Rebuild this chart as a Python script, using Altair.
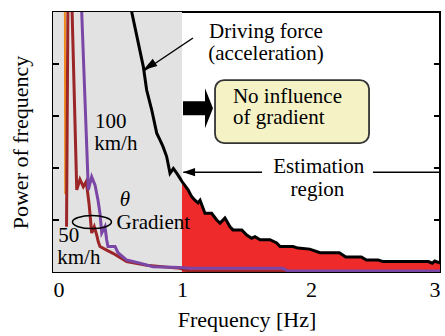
import altair as alt
import pandas as pd

# Frequency spectra (frequency in Hz, power in arbitrary units)
drive_f = [0.60, 0.700, 0.726, 0.765, 0.804, 0.829, 0.853, 0.881, 0.907, 0.933, 0.959, 0.985,
           1.0, 1.047, 1.075, 1.10, 1.124, 1.14, 1.178, 1.23, 1.269, 1.295, 1.333, 1.372, 1.395,
           1.463, 1.502, 1.54, 1.566, 1.605, 1.682, 1.734, 1.76, 1.86, 1.90, 1.99, 2.07, 2.22,
           2.27, 2.39, 2.43, 2.52, 2.56, 2.91, 2.94, 2.96, 3.0]
drive_p = [5.12, 3.95, 3.5, 3.12, 2.67, 2.54, 2.41, 2.22, 1.90, 1.99, 1.90, 1.80,
           1.74, 1.58, 1.45, 1.38, 1.33, 1.38, 1.13, 1.13, 1.0, 0.94, 1.04, 0.87, 0.81,
           0.81, 0.71, 0.65, 0.68, 0.62, 0.62, 0.56, 0.49, 0.49, 0.46, 0.44, 0.37, 0.37,
           0.29, 0.29, 0.23, 0.23, 0.20, 0.20, 0.17, 0.21, 0.17]

v100_f = [0.218, 0.274, 0.30, 0.326, 0.349, 0.364, 0.378, 0.403, 0.416, 0.426, 0.481, 0.504,
          0.571, 0.674, 0.775, 0.984, 1.062, 1.783, 1.82, 3.0]
v100_p = [5.3, 1.58, 1.83, 1.67, 1.38, 1.13, 0.75, 0.87, 0.62, 0.49, 0.49, 0.37,
          0.23, 0.17, 0.10, 0.087, 0.07, 0.07, 0.02, 0.02]

v50_f = [0.105, 0.116, 0.145, 0.184, 0.209, 0.235, 0.258, 0.28, 0.30, 0.32, 0.34, 0.351,
         0.364, 0.416, 0.465, 0.571, 0.726, 0.984, 1.06, 3.0]
v50_p = [0.87, 5.3, 5.3, 1.58, 1.78, 1.64, 1.74, 1.30, 0.75, 0.87, 0.70, 0.58,
         0.49, 0.42, 0.36, 0.20, 0.13, 0.07, 0.01, 0.01]

other_f = [0.092, 0.095]
other_p = [5.3, 1.5]

y_ticks = [1, 2, 3, 4]

FONT = "Liberation Serif, Times New Roman, Liberation Sans, serif"
FS = 21

def X(field):
    return alt.X(field, type="quantitative",
                 scale=alt.Scale(domain=[0, 3], nice=False, zero=False),
                 axis=alt.Axis(values=[0, 1, 2, 3], format="d", ticks=False, domain=False,
                               grid=False, labelFontSize=22, labelPadding=7, labelFont=FONT,
                               labelColor="black", title="Frequency [Hz]", titleFont=FONT,
                               titleFontSize=22, titleFontWeight="normal",
                               titleColor="black", titlePadding=9),
                 title="Frequency [Hz]")

def Y(field):
    return alt.Y(field, type="quantitative",
                 scale=alt.Scale(domain=[0, 5], nice=False, zero=False),
                 axis=alt.Axis(labels=False, ticks=False, domain=False, grid=False,
                               title="Power of frequency", titleFontSize=22, titleFont=FONT,
                               titleFontWeight="normal", titleColor="black",
                               titlePadding=21),
                 title="Power of frequency")

drive = pd.DataFrame({"f": drive_f, "p": drive_p})
est = drive[drive["f"] >= 1.0]
s100 = pd.DataFrame({"f": v100_f, "p": v100_p})
s50 = pd.DataFrame({"f": v50_f, "p": v50_p})
other = pd.DataFrame({"f": other_f, "p": other_p})

# shaded low-frequency band (affected by gradient)
band = alt.Chart(pd.DataFrame({"a": [0.0], "b": [1.0], "lo": [0.0], "hi": [5.0]})).mark_rect(
    color="#e2e2e2").encode(x=X("a"), x2="b", y=Y("lo"), y2="hi")

area = alt.Chart(est).mark_area(color="#ee2a2a", clip=True).encode(x=X("f"), y=Y("p"))

line_other = alt.Chart(other).mark_line(color="#f08a1e", strokeWidth=2, clip=True).encode(
    x=X("f"), y=Y("p"))
line50 = alt.Chart(s50).mark_line(color="#9b2527", strokeWidth=3, clip=True).encode(
    x=X("f"), y=Y("p"))
line100 = alt.Chart(s100).mark_line(color="#7b47a6", strokeWidth=3, clip=True).encode(
    x=X("f"), y=Y("p"))
line_drive = alt.Chart(drive).mark_line(color="black", strokeWidth=3, clip=True).encode(
    x=X("f"), y=Y("p"))

# inward tick marks on both vertical edges
ticks_df = pd.DataFrame({"t": y_ticks})
ticks_l = alt.Chart(ticks_df).mark_rule(color="black", strokeWidth=2).encode(
    y=Y("t"), x=alt.value(0), x2=alt.value(6))
ticks_r = alt.Chart(ticks_df).mark_rule(color="black", strokeWidth=2).encode(
    y=Y("t"), x=alt.value(381), x2=alt.value(387))

# "Driving force" pointer
ptr = alt.Chart(pd.DataFrame({"a": [1.085], "b": [0.71], "c": [4.5], "d": [3.875]})).mark_rule(
    color="black", strokeWidth=1.5).encode(x=X("a"), x2="b", y=Y("c"), y2="d")
head = "M0,0L-0.6,2L0.6,2Z"
ptr_head = alt.Chart(pd.DataFrame({"f": [0.700], "p": [3.885]})).mark_point(
    shape=head, size=196, filled=True, color="black", opacity=1, angle=237).encode(
    x=X("f"), y=Y("p"))

# estimation region pointer
est_lines = alt.Chart(pd.DataFrame({"a": [1.01, 2.48], "b": [1.62, 3.0], "c": [1.92, 1.92]})).mark_rule(
    color="black", strokeWidth=1.5).encode(x=X("a"), x2="b", y=Y("c"))
est_head = alt.Chart(pd.DataFrame({"f": [1.008], "p": [1.92]})).mark_point(
    shape="M0,0L-0.7,2L0.7,2Z", size=144, filled=True, color="black", opacity=1,
    angle=270).encode(x=X("f"), y=Y("p"))

# block arrow and note box
block = "M-15,-7L7,-7L7,-20L15,0L7,20L7,7L-15,7Z"
block_arrow = alt.Chart(pd.DataFrame({"f": [1.124], "p": [3.15]})).mark_point(
    shape=block, size=4, filled=True, color="black", opacity=1).encode(x=X("f"), y=Y("p"))
note_box = alt.Chart(pd.DataFrame({"a": [1.256], "b": [2.45], "c": [3.69], "d": [2.48]})).mark_rect(
    fill="#f5f3c6", stroke="#333333", strokeWidth=1.8, cornerRadius=9).encode(
    x=X("a"), x2="b", y=Y("c"), y2="d")

# gradient ellipse
ellipse = ("M-1,0C-1,-0.184 -0.552,-0.333 0,-0.333C0.552,-0.333 1,-0.184 1,0"
           "C1,0.184 0.552,0.333 0,0.333C-0.552,0.333 -1,0.184 -1,0Z")
ell = alt.Chart(pd.DataFrame({"f": [0.302], "p": [0.96]})).mark_point(
    shape=ellipse, size=1521, filled=False, color="black", strokeWidth=1.5, opacity=1).encode(
    x=X("f"), y=Y("p"))

labels_c = pd.DataFrame({
    "f": [1.651, 1.651, 2.06, 2.05],
    "p": [4.615, 4.19, 2.01, 1.577],
    "txt": ["Driving force", "(acceleration)", "Estimation", "region"],
})
labels_l = pd.DataFrame({
    "f": [1.395, 1.395, 0.326, 0.32, 0.041, 0.033, 0.493],
    "p": [3.375, 2.952, 2.885, 2.46, 0.692, 0.269, 0.94],
    "txt": ["No influence", "of gradient", "100", "km/h", "50", "km/h", "Gradient"],
})
txt_c = alt.Chart(labels_c).mark_text(fontSize=FS, font=FONT, color="black", align="center",
                                      baseline="middle").encode(x=X("f"), y=Y("p"), text="txt:N")
txt_l = alt.Chart(labels_l).mark_text(fontSize=FS, font=FONT, color="black", align="left",
                                      baseline="middle").encode(x=X("f"), y=Y("p"), text="txt:N")
theta = alt.Chart(pd.DataFrame({"f": [0.558], "p": [1.385], "txt": ["θ"]})).mark_text(
    fontSize=21, font=FONT, fontStyle="italic", color="black", align="center",
    baseline="middle").encode(x=X("f"), y=Y("p"), text="txt:N")

chart = alt.layer(
    band, area, line_other, line50, line100, line_drive, ticks_l, ticks_r,
    ptr, ptr_head, est_lines, est_head, block_arrow, note_box, ell, txt_c, txt_l, theta,
).properties(
    width=387, height=260,
    autosize=alt.AutoSizeParams(type="none"),
    padding={"left": 53, "top": 12, "right": 5, "bottom": 64},
    background="white",
).configure(font=FONT).configure_view(stroke="black", strokeWidth=2)

chart.save("out.html", embed_options={"renderer": "svg", "actions": False})
